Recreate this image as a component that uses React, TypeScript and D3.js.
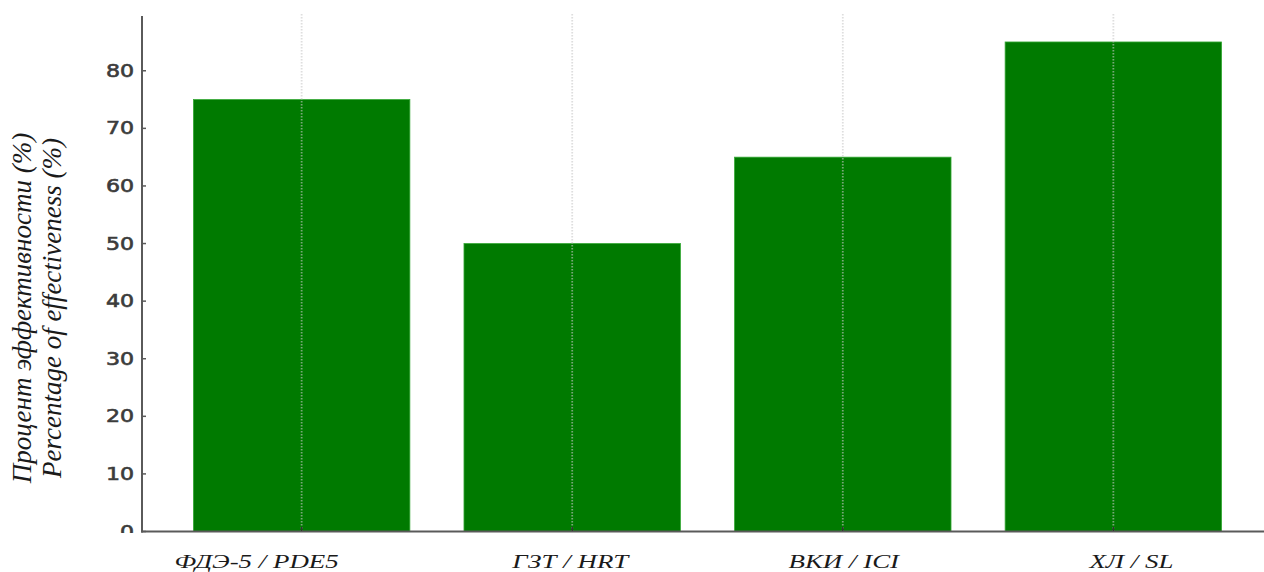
import React from "react";
import * as d3 from "d3";

const categories = ["ФДЭ-5 / PDE5", "ГЗТ / HRT", "ВКИ / ICI", "ХЛ / SL"];
const values = [75, 50, 65, 85];
const yTicks = [0, 10, 20, 30, 40, 50, 60, 70, 80];
const yLabelLines = ["Процент эффективности (%)", "Percentage of effectiveness (%)"];

// layout constants (not data)
const W = 1264;
const H = 572;
const labelShift = [-45, -2, 1, 18];
const SERIF = "'Liberation Serif', 'Times New Roman', 'DejaVu Serif', serif";

export default function App() {
  const x = d3.scaleLinear().domain([-0.59, 3.59]).range([142, 1273]);
  const y = d3.scaleLinear().domain([0, 89.25]).range([531.5, 17.5]);
  const barW = x(0.4) - x(-0.4);

  return (
    <svg width={W} height={H} style={{ position: "absolute", left: 0, top: 0, background: "#fff" }}>
      <defs>
        <clipPath id="tickClip">
          <rect x={0} y={0} width={142} height={533} />
        </clipPath>
      </defs>
      <rect x={0} y={0} width={W} height={H} fill="#fff" />

      {/* bars */}
      {values.map((v, i) => (
        <rect
          key={i}
          x={x(i) - barW / 2}
          y={y(v)}
          width={barW}
          height={y(0) - y(v)}
          fill="#007a00"
          stroke="#35a835"
          strokeWidth={0.8}
        />
      ))}

      {/* vertical dotted gridlines at categories */}
      {categories.map((c, i) => (
        <line
          key={c}
          x1={x(i)}
          x2={x(i)}
          y1={14}
          y2={y(0)}
          stroke="#c8c8c8"
          strokeOpacity={0.6}
          strokeWidth={1.8}
          strokeDasharray="1.5,1.5"
        />
      ))}

      {/* axes */}
      <line x1={142} x2={142} y1={16} y2={532.5} stroke="#5a5a5a" strokeWidth={2} />
      <line x1={141} x2={W} y1={531.5} y2={531.5} stroke="#5a5a5a" strokeWidth={2} />

      {/* y ticks */}
      <g clipPath="url(#tickClip)">
        {yTicks.map((t) => (
          <g key={t} transform={`translate(134, ${y(t)}) scale(1.3, 1)`}>
            <text
              textAnchor="end"
              dy="0.36em"
              fontFamily="'DejaVu Sans', Verdana, sans-serif"
              fontSize={17}
              fill="#3c3c3c"
              stroke="#3c3c3c"
              strokeWidth={0.6}
            >
              {t}
            </text>
          </g>
        ))}
      </g>
      {yTicks.map((t) => (
        <line key={"tk" + t} x1={142} x2={146} y1={y(t)} y2={y(t)} stroke="#5a5a5a" strokeWidth={1.5} />
      ))}
      {categories.map((c, i) => (
        <line key={"xt" + c} x1={x(i)} x2={x(i)} y1={531} y2={527} stroke="#333" strokeWidth={1.5} />
      ))}

      {/* x labels */}
      {categories.map((c, i) => (
        <g key={"xl" + c} transform={`translate(${x(i) + labelShift[i]}, 568) scale(1.38, 1)`}>
          <text
            textAnchor="middle"
            style={{ fontFamily: SERIF, fontStyle: "italic", fontSize: "19.5px" }}
            fill="#1a1a1a"
          >
            {c}
          </text>
        </g>
      ))}

      {/* y axis label */}
      {yLabelLines.map((l, i) => (
        <text
          key={l}
          transform={`translate(${31 + i * 30}, 308) rotate(-90)`}
          textAnchor="middle"
          style={{ fontFamily: SERIF, fontStyle: "italic", fontSize: "27px" }}
          fill="#1a1a1a"
        >
          {l}
        </text>
      ))}
    </svg>
  );
}
